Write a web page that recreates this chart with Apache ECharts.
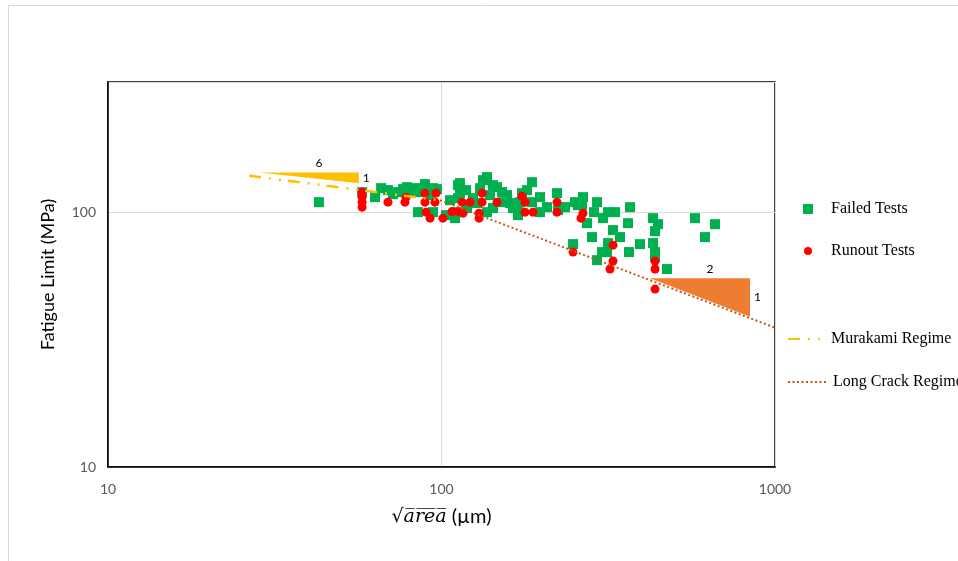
<!DOCTYPE html>
<html><head><meta charset="utf-8">
<script src="https://cdn.jsdelivr.net/npm/echarts@6/dist/echarts.min.js"></script>
<style>html,body{margin:0;padding:0;background:#fff}#c{width:958px;height:561px}</style>
</head><body><div id="c"></div>
<script>
// ---- data (sqrt(area) in µm, fatigue limit in MPa) ----
const failedTests = [
  [42.9,109.4],[57.8,119.8],[63.2,114.5],[65.9,124.2],[69.1,122.0],[71.5,117.6],[74.1,119.8],
  [76.7,123.1],[78.8,125.3],[80.4,119.8],[83.9,124.2],[86.2,119.8],[89.2,128.8],[89.2,123.1],
  [94.3,124.2],[96.9,123.1],[92.4,116.6],[85.0,100],[94.3,100],[103.2,97.3],[109.8,94.7],
  [112.1,100],[112.1,113.5],[112.1,127.6],[113.6,130.0],[113.6,118.7],[106.1,111.4],[118.5,122.0],
  [133.2,133.5],[136.9,137.2],[146.7,125.3],[151.9,119.8],[130.5,124.2],[142.7,127.6],[152.9,109.4],
  [124.3,113.5],[119.3,103.7],[136.9,100],[142.7,103.7],[127.8,108.5],[160.5,108.5],[157.2,116.6],
  [139.8,116.6],[186.8,131.1],[180.5,122.0],[197.4,114.5],[172.0,109.4],[163.9,103.7],[169.6,97.3],
  [169.6,101.8],[174.4,118.7],[186.8,109.4],[207.2,104.6],[222.0,118.7],[223.6,101.8],[226.7,104.6],
  [234.6,104.6],[197.4,100],[256.6,106.5],[251.3,109.4],[265.6,114.5],[263.8,106.5],[292.7,109.4],
  [286.6,100],[305.1,94.7],[315.8,100],[331.4,100],[273.1,90.5],[367.5,104.6],[362.5,90.5],
  [326.8,85.0],[343.0,79.8],[282.7,79.8],[248.0,74.9],[315.8,75.6],[303.0,69.7],[313.6,69.7],
  [292.7,64.8],[365.0,69.7],[393.8,74.9],[430.8,94.7],[446.0,89.7],[436.8,84.2],[430.8,75.6],
  [436.8,69.7],[436.8,66.6],[474.5,59.8],[575.6,94.7],[661.0,89.7],[616.8,79.8]
];
const runoutTests = [
  [57.8,119.8],[57.8,114.5],[57.8,109.4],[57.8,104.6],[69.1,109.4],[78.3,114.5],[77.7,109.4],
  [89.2,118.7],[96.3,118.7],[89.2,109.4],[95.6,109.4],[89.9,100],[92.4,94.7],[101.0,94.7],
  [107.5,100.5],[112.1,100.5],[115.2,109.4],[121.8,109.4],[116.0,99.1],[132.3,118.7],[132.3,109.4],
  [146.7,109.4],[129.6,99.1],[129.6,94.7],[174.4,115.5],[178.0,109.4],[178.0,100],[188.1,100],
  [222.0,109.4],[222.0,100],[265.6,99.1],[262.0,94.7],[248.0,69.7],[326.8,74.2],[326.8,64.3],
  [320.1,59.8],[436.8,64.3],[436.8,59.8],[436.8,49.9]
];
const murakamiRegime = [[26.5,138.8],[99,111.3]];
const longCrackRegime = [[99,111.3],[1000,35.2]];
const murakamiTriangle = [[28.4,143.1],[56.5,143.1],[56.5,129.9]];
const longCrackTriangle = [[421.9,55.0],[841.5,55.0],[841.5,38.9]];
const murakamiSlopeText = ['6','1'];
const longCrackSlopeText = ['2','1'];
const xTicks = [10,100,1000];
const yTicks = [10,100];

const chart = echarts.init(document.getElementById('c'), null, {renderer:'canvas'});

function triangleSeries(name, pts, labels, color) {
  return {
    type: 'custom', name: name, silent: true, z: 3,
    data: [pts.flat()],
    encode: {x:[0,2,4], y:[1,3,5]},
    renderItem: function (params, api) {
      const p = [0,1,2].map(i => api.coord([api.value(2*i), api.value(2*i+1)]));
      const tx = p[0][0] + (p[1][0]-p[0][0])*0.6;
      return {type:'group', children:[
        {type:'polygon', shape:{points:p}, style:{fill:color}},
        {type:'text', x: tx, y: p[0][1]-3, style:{text: labels[0], fill:'#000', fontSize:12, fontFamily:'Lato', align:'center', verticalAlign:'bottom'}},
        {type:'text', x: p[1][0]+4, y:(p[1][1]+p[2][1])/2, style:{text: labels[1], fill:'#000', fontSize:12, fontFamily:'Lato', align:'left', verticalAlign:'middle'}}
      ]};
    }
  };
}

const legendText = {fontFamily:'Liberation Serif', fontSize:16, color:'#000'};

const option = {
  animation: false,
  backgroundColor: '#fff',
  graphic: [{type:'rect', z:-10, shape:{x:8.5,y:5.5,width:1000,height:600}, style:{fill:'none', stroke:'#D9D9D9', lineWidth:1}}],
  grid: {left:108, right:183, top:82, bottom:94, show:true, borderColor:'#000', borderWidth:1.5, backgroundColor:'transparent'},
  legend: [
    {orient:'vertical', left:803, top:201, padding:0, itemWidth:10, itemHeight:10,
      textStyle:Object.assign({padding:[0,0,0,13]}, legendText), data:[{name:'Failed Tests', icon:'rect'}]},
    {orient:'vertical', left:804, top:243, padding:0, itemWidth:8, itemHeight:8,
      textStyle:Object.assign({padding:[0,0,0,14]}, legendText), data:[{name:'Runout Tests', icon:'circle'}]},
    {orient:'vertical', left:787, top:331, padding:0, itemWidth:38, itemHeight:10,
      itemStyle:{opacity:0}, textStyle:legendText, data:['Murakami Regime']},
    {orient:'vertical', left:787, top:374, padding:0, itemWidth:40, itemHeight:10,
      itemStyle:{opacity:0}, textStyle:legendText, data:['Long Crack Regime']}
  ],
  xAxis: {
    type:'log', logBase:10, min:10, max:1000,
    axisLine:{show:true, lineStyle:{color:'#000', width:1.5}}, axisTick:{show:false},
    splitLine:{show:true, lineStyle:{color:'#D9D9D9', width:1}},
    axisLabel:{color:'#595959', fontFamily:'Lato', fontSize:14, margin:15,
      formatter: v => (xTicks.some(t => Math.abs(t-v)/t < 1e-6) ? String(Math.round(v)) : '')},
    name:'{r|√}{v|a\u0305r\u0305e\u0305a\u0305}{u| (µm)}', nameLocation:'middle', nameGap:40,
    nameTextStyle:{rich:{
      r:{fontFamily:'DejaVu Serif', fontSize:19, color:'#000'},
      v:{fontFamily:'DejaVu Serif', fontStyle:'italic', fontSize:19, color:'#000'},
      u:{fontFamily:'Lato', fontSize:20, color:'#000'}
    }}
  },
  yAxis: {
    type:'log', logBase:10, min:10, max:324,
    axisLine:{show:true, lineStyle:{color:'#000', width:1.5}}, axisTick:{show:false},
    splitLine:{show:true, lineStyle:{color:'#D9D9D9', width:1}},
    axisLabel:{color:'#595959', fontFamily:'Lato', fontSize:14, margin:12,
      formatter: v => (yTicks.some(t => Math.abs(t-v)/t < 1e-6) ? String(Math.round(v)) : '')},
    name:'Fatigue Limit (MPa)', nameLocation:'middle', nameGap:51, nameRotate:90,
    nameTextStyle:{fontFamily:'Lato', fontSize:18, color:'#000'}
  },
  series: [
    {name:'Failed Tests', type:'scatter', symbol:'rect', symbolSize:10, data:failedTests,
      itemStyle:{color:'#00B050', opacity:1}, z:2},
    {name:'Runout Tests', type:'scatter', symbol:'circle', symbolSize:9, data:runoutTests,
      itemStyle:{color:'#FF0000', opacity:1}, z:3},
    triangleSeries('murakamiSlope', murakamiTriangle, murakamiSlopeText, '#FFC000'),
    triangleSeries('longCrackSlope', longCrackTriangle, longCrackSlopeText, '#ED7D31'),
    {name:'Murakami Regime', type:'line', symbol:'none', data:murakamiRegime, z:4,
      lineStyle:{color:'#FFC000', width:2.5, type:[12,8,2,8,2,7]}, itemStyle:{color:'#FFC000'}},
    {name:'Long Crack Regime', type:'line', symbol:'none', data:longCrackRegime, z:4,
      lineStyle:{color:'#C55A11', width:2, type:[2,2.5]}, itemStyle:{color:'#C55A11'}}
  ]
};
chart.setOption(option);
</script>
</body></html>
